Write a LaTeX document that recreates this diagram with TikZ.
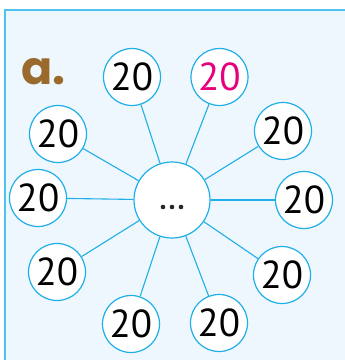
\documentclass[tikz,border=0pt]{standalone}
\usepackage{fontspec}
\usetikzlibrary{calc}
\setmainfont{PT Sans}
\newfontfamily\labelfont{Poppins}
\definecolor{bgblue}{HTML}{EEF7FD}
\definecolor{frameblue}{HTML}{4EC3EF}
\definecolor{lineblue}{HTML}{1FAFE8}
\definecolor{magentared}{HTML}{E6007E}
\definecolor{brownlabel}{HTML}{9A6A2C}
\begin{document}
\begin{tikzpicture}[x=1pt,y=-1pt,
  numnode/.style={circle,draw=lineblue,fill=white,line width=1.2pt,minimum size=57pt,inner sep=0pt,font=\fontsize{39}{39}\selectfont},
  hubnode/.style={circle,draw=lineblue,fill=white,line width=1.2pt,minimum size=76pt,inner sep=0pt},
  spoke/.style={draw=lineblue,line width=1.1pt}]
\useasboundingbox (0,0) rectangle (345,360);
\fill[bgblue] (5,10) rectangle (350,365);
\draw[frameblue,line width=1.5pt] (5,365) -- (5,10) -- (350,10);
\node[text=brownlabel,font=\labelfont\bfseries\fontsize{46}{46}\selectfont,anchor=base west] (lbl) at (18,84) {a.};
\node[hubnode] (hub) at (172,200) {};
\foreach \dx in {-9,0,9} \fill[black!85] ($(hub.center)+(\dx,7)$) circle (2.3pt);
\node[numnode] (n1) at (132,77) {20};
\node[numnode,text=magentared] (n2) at (219.5,77) {20};
\node[numnode] (n3) at (283,131) {20};
\node[numnode] (n4) at (304,200) {20};
\node[numnode] (n5) at (282,275) {20};
\node[numnode] (n6) at (219,323) {20};
\node[numnode] (n7) at (131,324) {20};
\node[numnode] (n8) at (57,272) {20};
\node[numnode] (n9) at (38,198) {20};
\node[numnode] (n10) at (58,134) {20};
\foreach \n in {n1,n2,n3,n4,n5,n6,n7,n8,n9,n10} \draw[spoke] (hub) -- (\n);
\end{tikzpicture}
\end{document}
